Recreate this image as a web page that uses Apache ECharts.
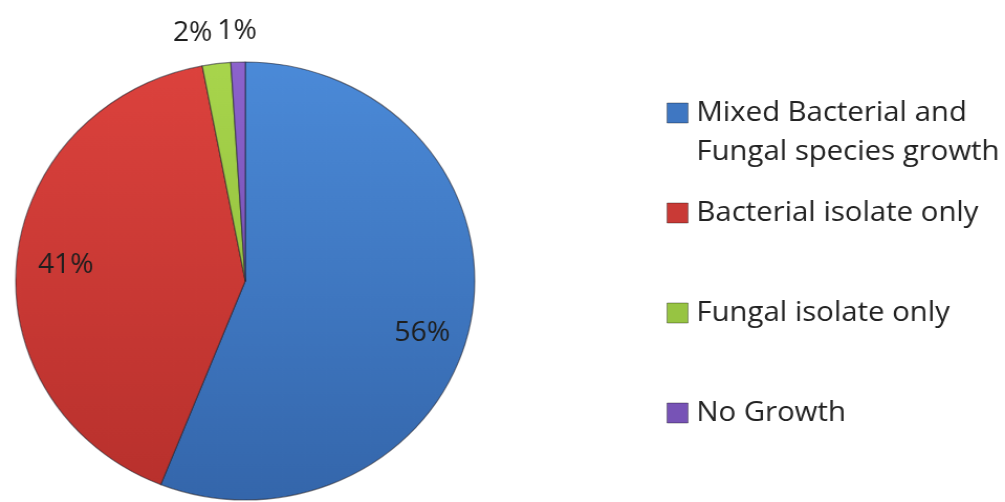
<!DOCTYPE html>
<html>
<head>
<meta charset="utf-8">
<script src="https://cdn.jsdelivr.net/npm/echarts@6/dist/echarts.min.js"></script>
<style>
  html, body { margin: 0; padding: 0; background: #fff; overflow: hidden; }
  /* the source picture is stretched a little sideways, so the pie is an ellipse */
  #chart { width: 959px; height: 502px; transform: scaleX(1.048); transform-origin: 0 0; }
</style>
</head>
<body>
<div id="chart"></div>
<script>
// pie data, clockwise from 12 o'clock
var categories = ['Mixed Bacterial and Fungal species growth', 'Bacterial isolate only', 'Fungal isolate only', 'No Growth'];
var values = [56, 41, 2, 1];

// palette (lighter top, darker bottom)
var topColors = ['#4b8ad8', '#dc423d', '#a8d54c', '#8c63cc'];
var bottomColors = ['#3466ab', '#b7302c', '#86b236', '#6645a2'];
var legendColors = ['#3f77c2', '#c93a36', '#97c442', '#7753b6'];

var CX = 234, CY = 281, R = 219;
var total = values.reduce(function (a, b) { return a + b; }, 0);

var myChart = echarts.init(document.getElementById('chart'));

var font = '"Open Sans", Lato, sans-serif';

var pieData = values.map(function (v, i) {
    var item = {
        name: categories[i],
        value: v,
        itemStyle: {
            color: new echarts.graphic.LinearGradient(0, CY - R, 0, CY + R, [
                { offset: 0, color: topColors[i] },
                { offset: 1, color: bottomColors[i] }
            ], true)
        }
    };
    if (v < 5) {
        item.label = { position: 'outside' };
    }
    return item;
});

// one legend block per item, so the two-line entry keeps its marker on the first line
var legendTops = [113, 213, 313, 413];
var legends = categories.map(function (name, i) {
    var multi = i === 0;
    return {
        orient: 'vertical',
        left: 636,
        top: multi ? legendTops[i] - 58.5 : legendTops[i] - 19.5,
        padding: 0,
        icon: 'rect',
        itemWidth: 20,
        itemHeight: 20,
        selectedMode: false,
        data: [{ name: name, itemStyle: { color: legendColors[i], borderColor: 'rgba(0,0,0,0.35)', borderWidth: 1 } }],
        formatter: multi ? function () { return '\nMixed Bacterial and\nFungal species growth'; } : '{name}',
        textStyle: {
            fontFamily: font,
            fontSize: 28,
            color: '#222',
            lineHeight: 39,
            padding: [0, 0, 0, 3]
        }
    };
});

var option = {
    backgroundColor: '#fff',
    animation: false,
    legend: legends,
    series: [{
        type: 'pie',
        center: [CX, CY],
        radius: R,
        startAngle: 90,
        clockwise: true,
        avoidLabelOverlap: false,
        emphasis: { disabled: true },
        itemStyle: {
            borderColor: 'rgba(30,30,40,0.55)',
            borderWidth: 1.2
        },
        label: {
            show: true,
            position: 'inside',
            formatter: '{c}%',
            fontFamily: font,
            fontSize: 27,
            color: '#1e1e1e'
        },
        labelLine: { show: false },
        labelLayout: function (params) {
            var i = params.dataIndex;
            var cum = 0;
            for (var j = 0; j < i; j++) cum += values[j];
            var mid = (cum + values[i] / 2) / total * Math.PI * 2;
            var r = values[i] < 5 ? 250 : 172;
            return {
                x: CX + r * Math.sin(mid),
                y: CY - r * Math.cos(mid) + (i === 0 ? 20 : 0),
                align: i === 2 ? 'right' : 'center',
                verticalAlign: 'middle'
            };
        },
        data: pieData
    }]
};

myChart.setOption(option);
</script>
</body>
</html>
